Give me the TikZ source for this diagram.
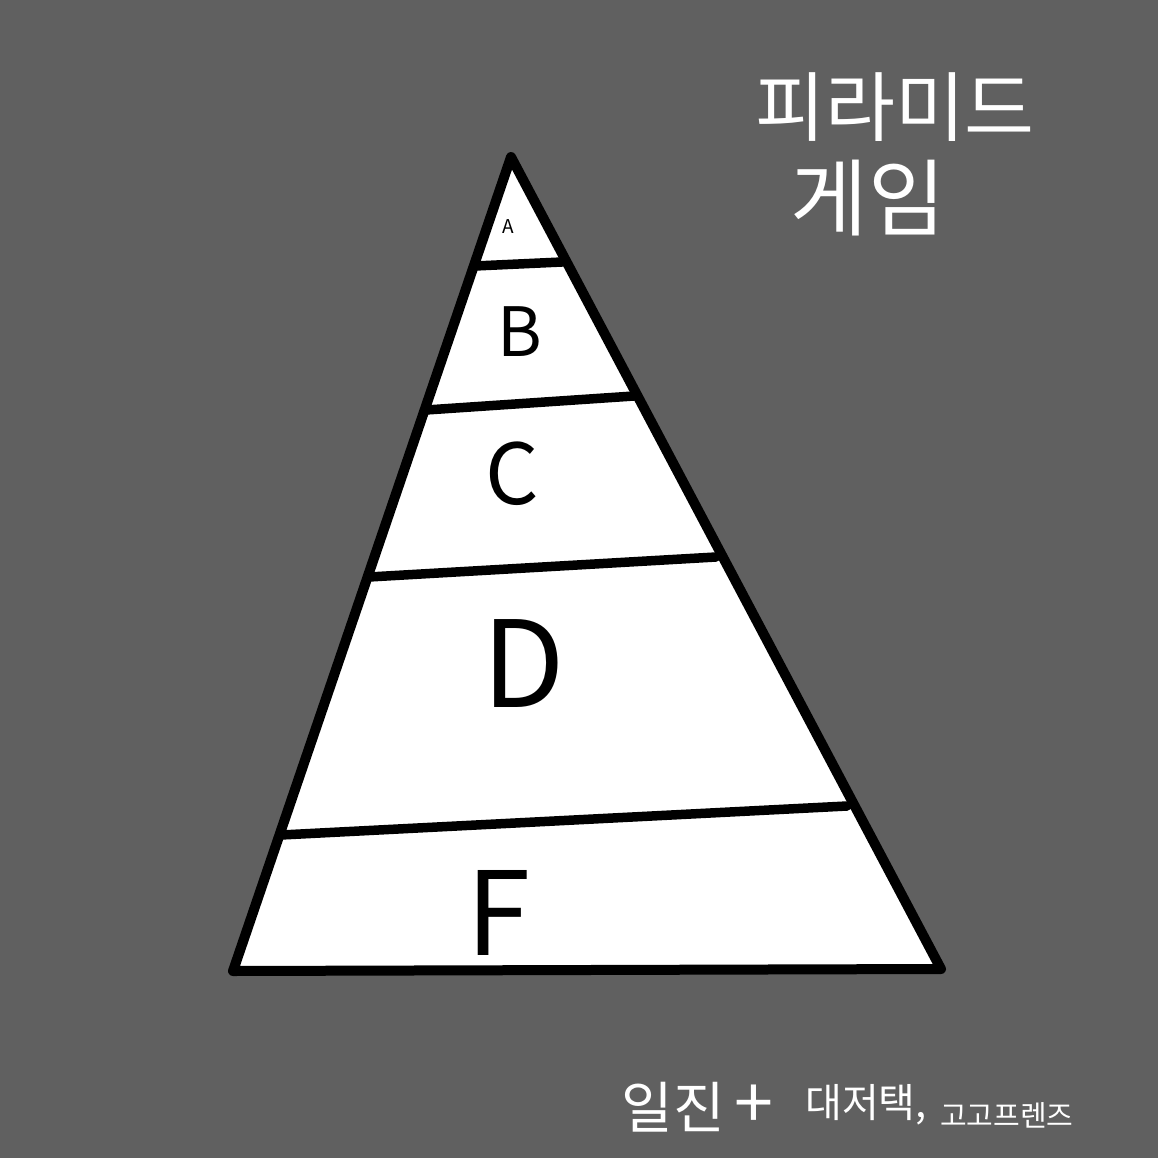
\documentclass[tikz,border=0pt]{standalone}
\usepackage{fontspec}
\usepackage{tikz}
\usetikzlibrary{positioning}
\usepackage{xcolor}
\newfontfamily\kofont{Noto Sans CJK KR}
\definecolor{boardgray}{HTML}{606060}
\newcommand\fsz[1]{\kofont\fontsize{#1}{#1}\selectfont}

\begin{document}
\begin{tikzpicture}[x=1pt, y=-1pt,
    layerline/.style={draw=black, line width=9.5pt, line cap=round},
    tierlabel/.style={text=black, inner sep=0pt},
    scrawl/.style={text=white, inner sep=0pt}]
				    		\fill[boardgray] (0, 0) rectangle (1158, 1158);
				    		\useasboundingbox (0, 0) rectangle (1158, 1158);
				    		\coordinate (apex) at (511, 157);
				    		\coordinate (baseL) at (233, 971);
				    		\coordinate (baseR) at (941, 969);
				    		\filldraw[layerline, fill=white, line join=round, line width=10pt] (apex)--(baseL)--(baseR)--cycle;
				    		\draw[layerline] (475, 266)--(562, 262);
				    		\draw[layerline] (426, 410)--(634, 396);
				    		\draw[layerline] (369, 577)--(716, 557);
				    		\draw[layerline] (281, 835)--(847, 806);
				    		\node[tierlabel, font=\fsz{19}] (tierA) at (508, 227) {A};
				    		\node[tierlabel, font=\fsz{68}] (tierB) at (520, 332) {B};
				    		\node[tierlabel, font=\fsz{84}] (tierC) at (512, 474) {C};
				    		\node[tierlabel, font=\fsz{120}] (tierD) at (524, 664) {D};
				    		\node[tierlabel, font=\fsz{116}] (tierF) at (499, 913) {F};
				    		\node[scrawl, font=\fsz{76}] (title) at (895, 107) {피라미드};
				    		\node[scrawl, font=\fsz{84}] (subtitle) at (868, 198) {게임};
				    		\node[scrawl, font=\fsz{56}] (iljin) at (673, 1107) {일진};
				    		\node[scrawl, font=\fsz{70}, right=10pt of iljin] (plus) {+};
				    		\node[scrawl, font=\fsz{40}] (mansion) at (866, 1105) {대저택,};
				    		\node[scrawl, font=\fsz{29}, anchor=west] (gogo) at (940, 1115) {고고프렌즈};
				    	\end{tikzpicture}
\end{document}
